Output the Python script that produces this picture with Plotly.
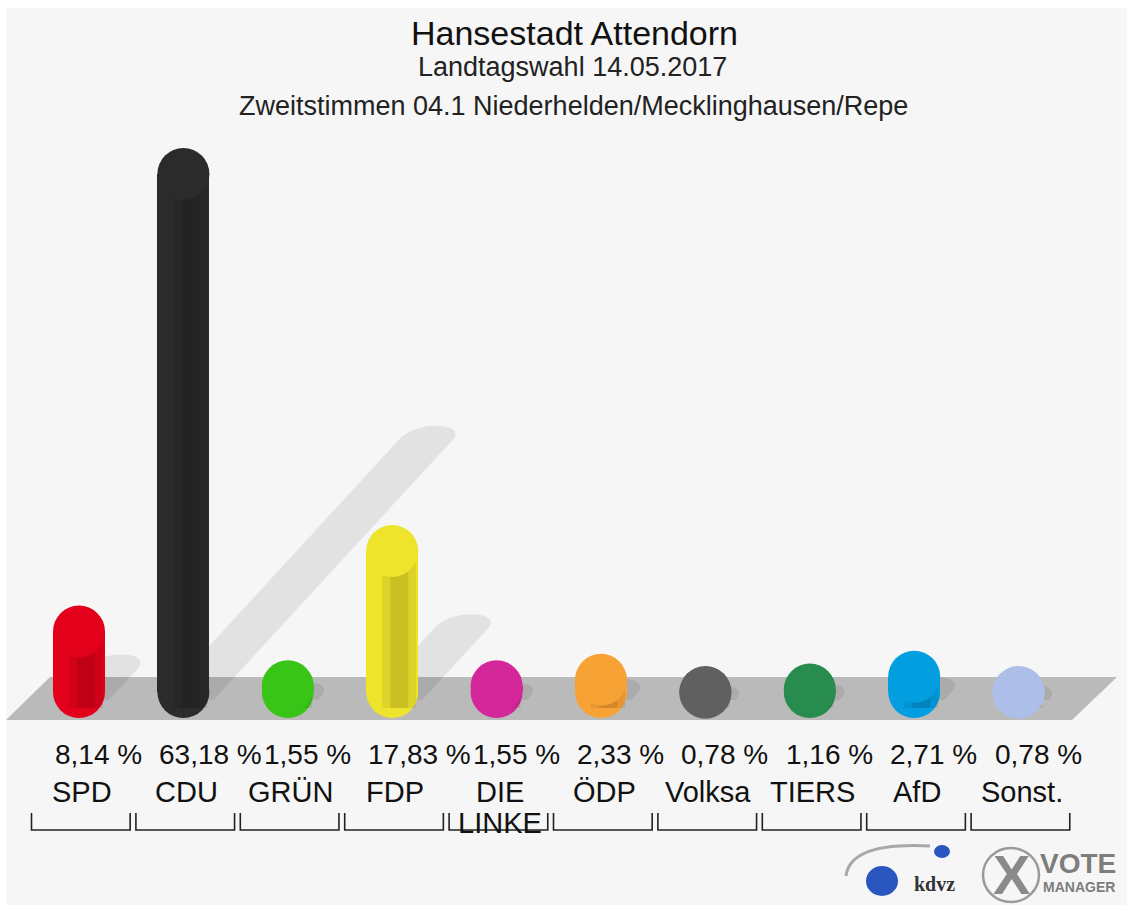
import plotly.graph_objects as go

# ---------------- data ----------------
parties = ["SPD", "CDU", "GRÜN", "FDP", "DIE<br>LINKE", "ÖDP", "Volksa", "TIERS", "AfD", "Sonst."]
values = [8.14, 63.18, 1.55, 17.83, 1.55, 2.33, 0.78, 1.16, 2.71, 0.78]
value_labels = ["8,14 %", "63,18 %", "1,55 %", "17,83 %", "1,55 %", "2,33 %", "0,78 %", "1,16 %", "2,71 %", "0,78 %"]
colors = ["#e2001a", "#2b2b2b", "#38c517", "#efe42c", "#d4279a", "#f7a234", "#606060", "#288c4e", "#039ee0", "#adbfe8"]
title = "Hansestadt Attendorn"
subtitle1 = "Landtagswahl 14.05.2017"
subtitle2 = "Zweitstimmen 04.1 Niederhelden/Mecklinghausen/Repe"

# ---------------- geometry (pixel <-> data helpers) ----------------
W, H = 1133, 911
ML, MR, MT, MB = 6, 6, 8, 6
K = 8.313          # px per percentage point
Y0PX = 673.2       # pixel row of value 0
CX0, DX = 79.0, 104.4  # pixel x of first category, px per category


def ypx(py):
    return (Y0PX - py) / K


def xpx(px):
    return (px - CX0) / DX


BAR_W = 52 / DX
R_PX = 26
y_bottom = ypx(718)               # lowest point of the cylinders
y_bc = y_bottom + R_PX / K        # centre of bottom cap
idx = list(range(len(parties)))
top_c = [v - R_PX / K for v in values]   # centre of the top face

fig = go.Figure()

# cylinder bodies (between bottom-cap centre and top-face centre)
fig.add_trace(go.Bar(x=idx, y=[t - y_bc for t in top_c], base=[y_bc] * len(idx), width=BAR_W,
                     marker=dict(color=colors, line=dict(width=0)),
                     hoverinfo="skip", showlegend=False))
# bottom caps
fig.add_trace(go.Scatter(x=idx, y=[y_bc] * len(idx), mode="markers",
                         marker=dict(size=2 * R_PX, color=colors, line=dict(width=0)),
                         hoverinfo="skip", showlegend=False))
# shading bands (cylinder look)
sx, sy = [], []
for i, t in zip(idx, top_c):
    sx += [i + 7 / DX, i + 7 / DX, None]
    sy += [y_bc - 16 / K, t, None]
fig.add_trace(go.Scatter(x=sx, y=sy, mode="lines", line=dict(color="rgba(0,0,0,0.07)", width=34),
                         hoverinfo="skip", showlegend=False))
fig.add_trace(go.Scatter(x=sx, y=sy, mode="lines", line=dict(color="rgba(0,0,0,0.09)", width=18),
                         hoverinfo="skip", showlegend=False))
# top faces
fig.add_trace(go.Scatter(x=idx, y=top_c, mode="markers",
                         marker=dict(size=2 * R_PX, color=colors, line=dict(width=0)),
                         hoverinfo="skip", showlegend=False))

shapes = []
# floor band
fx = [xpx(6), xpx(50), xpx(1117), xpx(1072)]
fy = [ypx(720), ypx(677), ypx(677), ypx(720)]
shapes.append(dict(type="path", xref="x", yref="y", layer="below",
                   path=f"M {fx[0]},{fy[0]} L {fx[1]},{fy[1]} L {fx[2]},{fy[2]} L {fx[3]},{fy[3]} Z",
                   fillcolor="#bababa", line=dict(width=0)))
# shadows computed from each value
for i, v in zip(idx, values):
    cx = CX0 + DX * i
    h = v * K + 44.8
    rise = max(0.5 * h - 25, 0)
    sxo = 0.92 * rise
    base_y = 700
    xl, xr = cx - 24, cx + 30
    p1 = (xpx(xl), ypx(base_y))
    p2 = (xpx(xl + sxo), ypx(base_y - rise))
    p3 = (xpx(xr + sxo), ypx(base_y - rise))
    p4 = (xpx(xr), ypx(base_y))
    c1 = (xpx(xl + sxo + 16), ypx(base_y - rise - 20))
    c2 = (xpx(xr + sxo + 16), ypx(base_y - rise - 18))
    path = (f"M {p1[0]},{p1[1]} L {p2[0]},{p2[1]} "
            f"C {c1[0]},{c1[1]} {c2[0]},{c2[1]} {p3[0]},{p3[1]} "
            f"L {p4[0]},{p4[1]} Z")
    shapes.append(dict(type="path", xref="x", yref="y", layer="below", path=path,
                       fillcolor="rgba(0,0,0,0.08)", line=dict(width=0)))
# category brackets
for i in idx:
    xl, xr = i - 0.455, i + 0.49
    yt, yb = ypx(813), ypx(830)
    shapes.append(dict(type="path", xref="x", yref="y",
                       path=f"M {xl},{yt} L {xl},{yb} L {xr},{yb} L {xr},{yt}",
                       line=dict(color="#222222", width=1.6)))

# logo decorations (kdvz swoosh + balls, VOTE MANAGER ring)
shapes.append(dict(type="path", xref="x", yref="y",
                   path=f"M {xpx(846)},{ypx(876)} Q {xpx(850)},{ypx(842)} {xpx(930)},{ypx(846)}",
                   line=dict(color="#a8a8a8", width=3)))
shapes.append(dict(type="circle", xref="x", yref="y",
                   x0=xpx(866), x1=xpx(898), y0=ypx(896), y1=ypx(866),
                   fillcolor="#2a56c0", line=dict(width=0)))
shapes.append(dict(type="circle", xref="x", yref="y",
                   x0=xpx(934), x1=xpx(950), y0=ypx(858), y1=ypx(845),
                   fillcolor="#2a56c0", line=dict(width=0)))
shapes.append(dict(type="circle", xref="x", yref="y",
                   x0=xpx(983), x1=xpx(1039), y0=ypx(902), y1=ypx(848),
                   fillcolor="rgba(0,0,0,0)", line=dict(color="#9a9a9a", width=2.5)))

FONT = "Liberation Sans, Arial, Helvetica, sans-serif"
ann = []
ann.append(dict(x=xpx(574), y=ypx(33), text=title, font=dict(size=34, color="#111111", family=FONT)))
ann.append(dict(x=xpx(572), y=ypx(67), text=subtitle1, font=dict(size=27, color="#222222", family=FONT)))
ann.append(dict(x=xpx(573), y=ypx(106), text=subtitle2, font=dict(size=27, color="#222222", family=FONT)))
for i, lab in zip(idx, value_labels):
    ann.append(dict(x=i - BAR_W / 2, y=ypx(754), text=lab, xanchor="left",
                    font=dict(size=28, color="#111111", family=FONT)))
for i, p in zip(idx, parties):
    for j, line in enumerate(p.split("<br>")):
        ann.append(dict(x=i + 3 / DX, y=ypx(792 + 31 * j), text=line,
                        font=dict(size=29, color="#111111", family=FONT)))
# logo texts
ann.append(dict(x=xpx(934), y=ypx(884), text="<b>kdvz</b>", font=dict(size=20, color="#333333", family="Liberation Serif, serif")))
ann.append(dict(x=xpx(1011), y=ypx(874), text="<b>X</b>", font=dict(size=56, color="#8a8a8a", family=FONT)))
ann.append(dict(x=xpx(1078), y=ypx(863), text="<b>VOTE</b>", font=dict(size=28, color="#7d7d7d", family=FONT)))
ann.append(dict(x=xpx(1079), y=ypx(887), text="<b>MANAGER</b>", font=dict(size=14, color="#7d7d7d", family=FONT)))
for a in ann:
    a.setdefault("xref", "x")
    a.setdefault("yref", "y")
    a.setdefault("showarrow", False)

fig.update_layout(
    width=W, height=H,
    margin=dict(l=ML, r=MR, t=MT, b=MB, pad=0),
    paper_bgcolor="#ffffff", plot_bgcolor="#f6f6f6",
    barmode="overlay", bargap=0,
    xaxis=dict(range=[xpx(ML), xpx(W - MR)], visible=False, fixedrange=True),
    yaxis=dict(range=[ypx(H - MB), ypx(MT)], visible=False, fixedrange=True),
    shapes=shapes, annotations=ann, showlegend=False,
)

fig.write_html("out.html", config={"displayModeBar": False},
               post_script="document.body.style.margin='0px';")
